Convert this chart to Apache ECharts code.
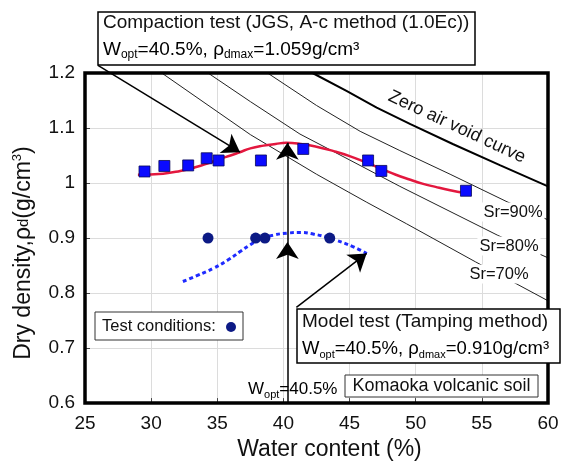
<!DOCTYPE html>
<html>
<head>
<meta charset="utf-8">
<script src="https://cdn.jsdelivr.net/npm/echarts@6/dist/echarts.min.js"></script>
<style>
html,body{margin:0;padding:0;background:#fff;}
#chart{width:563px;height:466px;}
</style>
</head>
<body>
<div id="chart"></div>
<script>
// ---- data ----
const xMin = 25, xMax = 60, xStep = 5;
const yMin = 0.6, yMax = 1.2, yStep = 0.1;

// Compaction test points (blue squares)
const compactW   = [29.5, 31.0, 32.8, 34.2, 35.1, 38.3, 41.5, 46.4, 47.4, 53.8];
const compactRho = [1.021, 1.031, 1.032, 1.045, 1.041, 1.041, 1.062, 1.041, 1.022, 0.986];

// Model test points (navy circles)
const modelW   = [34.3, 37.9, 38.6, 43.5];
const modelRho = [0.900, 0.900, 0.900, 0.900];

// Compaction curve (red)
const compactFitW   = [29.0, 30.9, 32.2, 33.4, 34.3, 35.2, 36.0, 36.7, 37.5, 38.5, 39.4, 40.2, 41.3, 42.5, 43.8, 45.0, 46.3, 47.5, 48.5, 49.6, 50.5, 51.5, 52.6, 53.7];
const compactFitRho = [1.015, 1.017, 1.022, 1.029, 1.036, 1.044, 1.050, 1.056, 1.063, 1.068, 1.071, 1.073, 1.071, 1.066, 1.058, 1.049, 1.037, 1.025, 1.015, 1.006, 0.999, 0.993, 0.987, 0.982];

// Model test curve (blue dotted)
const modelFitW   = [32.4, 33.5, 34.7, 35.8, 36.7, 37.5, 38.2, 39.2, 40.3, 41.3, 42.3, 43.2, 44.0, 45.2, 46.3];
const modelFitRho = [0.821, 0.832, 0.845, 0.860, 0.875, 0.888, 0.898, 0.905, 0.909, 0.910, 0.907, 0.902, 0.896, 0.885, 0.872];

// Zero air void curve and saturation lines
const zeroW   = [42.2, 44.8, 47.05, 49.6, 52.8, 56.4, 60];
const zeroRho = [1.200, 1.167, 1.137, 1.107, 1.071, 1.032, 0.994];
const sr90W   = [38.8, 42.5, 45.8, 48.8, 52.6, 56.9, 60];
const sr90Rho = [1.200, 1.141, 1.094, 1.059, 1.016, 0.966, 0.933];
const sr80W   = [34.3, 37.5, 41.25, 45.0, 48.8, 56.2, 60];
const sr80Rho = [1.200, 1.148, 1.089, 1.042, 0.994, 0.905, 0.864];
const sr70W   = [30.8, 37.5, 42.5, 46.3, 49.3, 54.5, 60];
const sr70Rho = [1.200, 1.088, 1.016, 0.965, 0.926, 0.857, 0.786];

// Arrows (data coordinates)
const woptLine      = 40.3;
const woptArrowTips = [0.893, 1.073];
const compactArrow  = [[25.98, 1.214], [36.72, 1.056]];
const modelArrow    = [[40.98, 0.774], [46.29, 0.872]];

// Texts
const compactTitle = 'Compaction test (JGS, A-c method (1.0Ec))';
const compactWopt = '40.5%', compactRhoMax = '1.059g/cm³';
const modelTitle = 'Model test (Tamping method)';
const modelWopt = '40.5%', modelRhoMax = '0.910g/cm³';
const soilName = 'Komaoka volcanic soil';
const testCondText = 'Test conditions:';
const xTitle = 'Water content (%)';
const srLabels = ['Sr=90%', 'Sr=80%', 'Sr=70%'];
const zeroLabel = 'Zero air void curve';

const zip = (a, b) => a.map((v, i) => [v, b[i]]);
const FONT = "'Liberation Sans', Arial, sans-serif";

const chart = echarts.init(document.getElementById('chart'));

function woptRich(size) {
  return {
    n: {fontSize: size, fontFamily: FONT, color: '#111', lineHeight: 22, verticalAlign: 'middle'},
    s: {fontSize: Math.round(size * 0.62), fontFamily: FONT, color: '#111', lineHeight: 13, verticalAlign: 'bottom'}
  };
}
const centerText = (x, y, text, size, extra) => ({
  type: 'text', z: 101, x, y,
  style: Object.assign({text, fontSize: size, fontFamily: FONT, fill: '#111', align: 'center', textAlign: 'center',
    verticalAlign: 'middle', textVerticalAlign: 'middle'}, extra || {})
});
const leftText = (x, y, text, size) => ({
  type: 'text', z: 101, x, y,
  style: {text, fontSize: size, fontFamily: FONT, fill: '#111', verticalAlign: 'middle', textVerticalAlign: 'middle'}
});
const richText = (x, y, text, size) => ({
  type: 'text', z: 101, x, y,
  style: {text, rich: woptRich(size), verticalAlign: 'middle', textVerticalAlign: 'middle'}
});

const option = {
  animation: false,
  backgroundColor: '#fff',
  grid: {left: 85, right: 15, top: 73, bottom: 60, show: true, borderColor: '#000', borderWidth: 3.5, z: 5},
  xAxis: {
    type: 'value', min: xMin, max: xMax, interval: xStep,
    name: xTitle, nameLocation: 'middle', nameGap: 21,
    nameTextStyle: {fontSize: 23, fontFamily: FONT, color: '#111', padding: [0, 0, 0, 26]},
    axisLine: {show: false},
    axisTick: {show: true, inside: true, length: 5, lineStyle: {color: '#444'}},
    axisLabel: {fontSize: 19, fontFamily: FONT, color: '#111', margin: 11},
    splitLine: {show: true, lineStyle: {color: '#dcdcdc', width: 1}}
  },
  yAxis: {
    type: 'value', min: yMin, max: yMax, interval: yStep,
    name: '{a|Dry density,ρ}{b|d}{a|(g/cm}{c|3}{a|)}', nameLocation: 'middle', nameGap: 48, nameRotate: 90,
    nameTextStyle: {
      fontFamily: FONT, color: '#111', padding: [0, 30, 0, 0],
      rich: {
        a: {fontSize: 23, fontFamily: FONT, color: '#111', lineHeight: 26, verticalAlign: 'middle'},
        b: {fontSize: 15, fontFamily: FONT, color: '#111', lineHeight: 26, verticalAlign: 'middle'},
        c: {fontSize: 13, fontFamily: FONT, color: '#111', lineHeight: 14, verticalAlign: 'top'}
      }
    },
    axisLine: {show: false},
    axisTick: {show: true, inside: true, length: 5, lineStyle: {color: '#444'}},
    axisLabel: {fontSize: 19, fontFamily: FONT, color: '#111', margin: 10,
      formatter: v => String(Math.round(v * 10) / 10)},
    splitLine: {show: true, lineStyle: {color: '#dcdcdc', width: 1}}
  },
  series: [
    {type: 'line', data: zip(zeroW, zeroRho), showSymbol: false, smooth: false,
      lineStyle: {color: '#000', width: 2}, z: 3},
    {type: 'line', data: zip(sr90W, sr90Rho), showSymbol: false, smooth: false,
      lineStyle: {color: '#222', width: 1}, z: 3},
    {type: 'line', data: zip(sr80W, sr80Rho), showSymbol: false, smooth: false,
      lineStyle: {color: '#222', width: 1}, z: 3},
    {type: 'line', data: zip(sr70W, sr70Rho), showSymbol: false, smooth: false,
      lineStyle: {color: '#222', width: 1}, z: 3},
    {type: 'line', data: zip(compactFitW, compactFitRho), showSymbol: false, smooth: true,
      lineStyle: {color: '#e3173e', width: 2.5}, z: 4},
    {type: 'line', data: zip(modelFitW, modelFitRho), showSymbol: false, smooth: true,
      lineStyle: {color: '#1f2bff', width: 3, type: [4, 3], cap: 'butt'}, z: 4},
    {type: 'scatter', data: zip(compactW, compactRho), symbol: 'rect', symbolSize: 11,
      itemStyle: {color: '#0a0aff', borderColor: '#0a0a55', borderWidth: 0.8, opacity: 1}, z: 6},
    {type: 'scatter', data: zip(modelW, modelRho), symbol: 'circle', symbolSize: 11,
      itemStyle: {color: '#0c1a85', opacity: 1}, z: 6},
    {type: 'lines', coordinateSystem: 'cartesian2d', clip: false, z: 7,
      symbol: ['none', 'arrow'], symbolSize: 17,
      lineStyle: {color: '#000', width: 1.5, opacity: 1}, itemStyle: {color: '#000'},
      data: [
        {coords: compactArrow},
        {coords: modelArrow},
        {coords: [[woptLine, yMin], [woptLine, woptArrowTips[0]]]},
        {coords: [[woptLine, woptArrowTips[0]], [woptLine, woptArrowTips[1]]]}
      ]}
  ],
  graphic: [
    // Compaction box
    {type: 'rect', z: 100, shape: {x: 98, y: 12, width: 377, height: 53},
      style: {fill: '#fff', stroke: '#000', lineWidth: 1.5}},
    leftText(103, 23, compactTitle, 19),
    richText(103, 50, '{n|W}{s|opt}{n|=' + compactWopt + ', ρ}{s|dmax}{n|=' + compactRhoMax + '}', 19),
    // Model box
    {type: 'rect', z: 100, shape: {x: 297, y: 309, width: 263, height: 54},
      style: {fill: '#fff', stroke: '#000', lineWidth: 1.5}},
    leftText(302, 322, modelTitle, 19),
    richText(302, 349, '{n|W}{s|opt}{n|=' + modelWopt + ', ρ}{s|dmax}{n|=' + modelRhoMax + '}', 18.5),
    // Test conditions box
    {type: 'rect', z: 100, shape: {x: 95, y: 312, width: 148, height: 28},
      style: {fill: '#fff', stroke: '#333', lineWidth: 1}},
    leftText(102, 326, testCondText, 16.5),
    {type: 'circle', z: 101, shape: {cx: 231, cy: 327, r: 5}, style: {fill: '#0c1a85'}},
    // Soil name box
    {type: 'rect', z: 100, shape: {x: 345, y: 375, width: 193, height: 22},
      style: {fill: '#fff', stroke: '#333', lineWidth: 1}},
    centerText(441.5, 386, soilName, 18),
    // Wopt label
    richText(248, 389, '{n|W}{s|opt}{n|=40.5%}', 17),
    // Zero air void label
    Object.assign(centerText(457, 127, zeroLabel, 18), {rotation: -25 * Math.PI / 180}),
    // Sr labels
    centerText(513, 212, srLabels[0], 16.5, {backgroundColor: '#fff', padding: [1, 2]}),
    centerText(509, 246, srLabels[1], 16.5, {backgroundColor: '#fff', padding: [1, 2]}),
    centerText(499, 274, srLabels[2], 16.5, {backgroundColor: '#fff', padding: [1, 2]})
  ]
};
chart.setOption(option);
</script>
</body>
</html>
